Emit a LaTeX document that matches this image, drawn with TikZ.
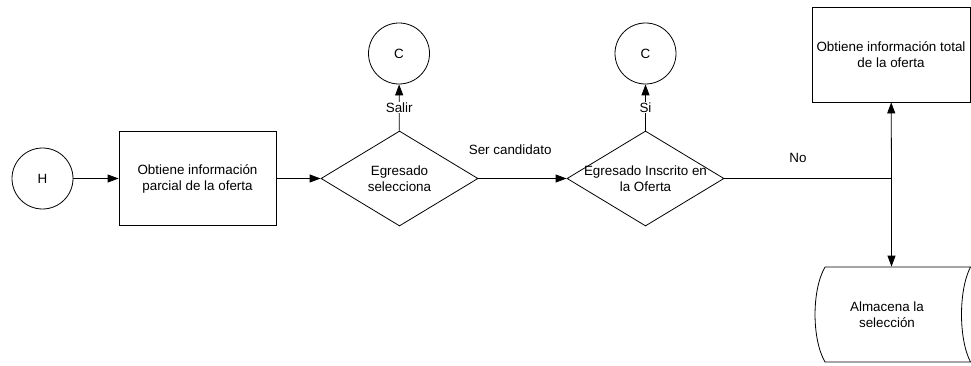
\documentclass[tikz,border=0pt]{standalone}
\usepackage{fontspec}
\setmainfont{Liberation Sans}
\usetikzlibrary{shapes.geometric,arrows.meta}

\begin{document}
\begin{tikzpicture}[x=1pt,y=-1pt,line width=0.8pt,font=\fontsize{13.4}{16}\selectfont,
  term/.style={draw,circle,minimum size=61pt,inner sep=0pt},
  proc/.style={draw,rectangle,minimum width=157pt,minimum height=94pt,align=center},
  decision/.style={draw,diamond,minimum width=157pt,minimum height=95pt,inner sep=0pt},
  flow/.style={-{Triangle[length=11pt,width=8pt]}},
  tag/.style={fill=white,inner sep=1pt}]
  \useasboundingbox (0,0) rectangle (971,366);
  \node[term] (H) at (42.5,178.5) {H};
  \node[proc] (obtpar) at (197.5,178.5) {Obtiene información\\parcial de la oferta};
  \node[decision] (selec) at (399.5,178.5) {};
  \node[align=center] (selectext) at (selec) {Egresado\\selecciona};
  \node[decision] (inscrito) at (645.5,178.5) {};
  \node[align=center] (inscritotext) at (inscrito) {Egresado Inscrito en\\la Oferta};
  \node[term] (csalir) at (399,53.5) {C};
  \node[term] (csi) at (645.5,53.5) {C};
  \node[proc,minimum width=158pt,minimum height=95pt] (obttot) at (891,54.5) {Obtiene información total\\de la oferta};
  \node[align=center,minimum height=95pt] (store) at (887,314.5) {Almacena la\\selección};
  \coordinate (split) at (891.5,178.5);

  % stored data outline
  \draw (825,267) -- (970.5,267) .. controls (958.5,290) and (958.5,339) .. (970.5,362)
    -- (825,362) .. controls (811.7,339) and (811.7,290) .. (825,267);

  \draw[flow] (H) -- (obtpar);
  \draw[flow] (obtpar) -- (selec);
  \draw[flow] (selec) -- node[tag] {Salir} (csalir);
  \draw[flow] (selec) -- node[above=20pt,pos=0.36] {Ser candidato} (inscrito);
  \draw[flow] (inscrito) -- node[tag] {Si} (csi);
  \draw (inscrito) -- node[above=12.4pt,pos=0.44] {No} (split);
  \draw[flow] (split) -- (obttot);
  \draw[flow] (split) -- (split |- store.north);
\end{tikzpicture}
\end{document}
